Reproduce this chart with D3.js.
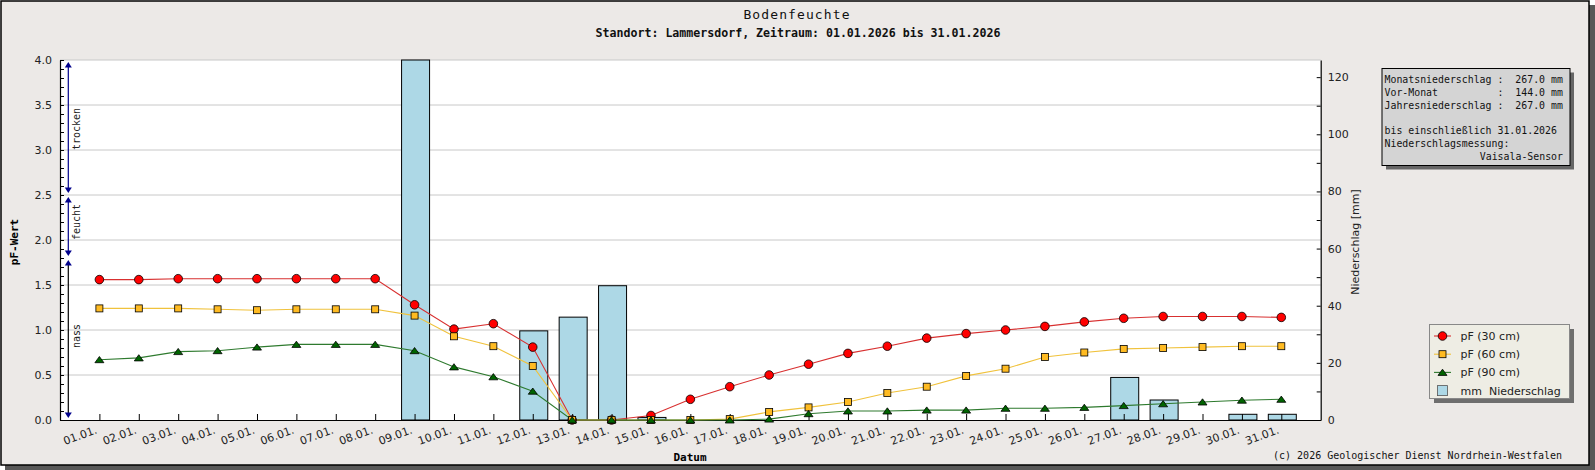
<!DOCTYPE html>
<html>
<head>
<meta charset="utf-8">
<script src="https://cdn.jsdelivr.net/npm/d3@7"></script>
<style>
  body { margin: 0; background: #fff; }
  text { font-family: "DejaVu Sans", sans-serif; }
  .mono { font-family: "DejaVu Sans Mono", monospace; }
</style>
</head>
<body>
<div id="chart"></div>
<script>
// chart data
var days = [1, 2, 3, 4, 5, 6, 7, 8, 9, 10, 11, 12, 13, 14, 15, 16, 17, 18, 19, 20, 21, 22, 23, 24, 25, 26, 27, 28, 29, 30, 31];
var dayLabels = ["01.01.", "02.01.", "03.01.", "04.01.", "05.01.", "06.01.", "07.01.", "08.01.", "09.01.", "10.01.",
  "11.01.", "12.01.", "13.01.", "14.01.", "15.01.", "16.01.", "17.01.", "18.01.", "19.01.", "20.01.",
  "21.01.", "22.01.", "23.01.", "24.01.", "25.01.", "26.01.", "27.01.", "28.01.", "29.01.", "30.01.", "31.01."];
var pf30 = [1.56, 1.56, 1.57, 1.57, 1.57, 1.57, 1.57, 1.57, 1.28, 1.01, 1.07, 0.81, 0.00, 0.00, 0.05, 0.23,
  0.37, 0.50, 0.62, 0.74, 0.82, 0.91, 0.96, 1.00, 1.04, 1.09, 1.13, 1.15, 1.15, 1.15, 1.14];
var pf60 = [1.24, 1.24, 1.24, 1.23, 1.22, 1.23, 1.23, 1.23, 1.16, 0.93, 0.82, 0.60, 0.00, 0.00, 0.00, 0.00,
  0.01, 0.09, 0.14, 0.20, 0.30, 0.37, 0.49, 0.57, 0.70, 0.75, 0.79, 0.80, 0.81, 0.82, 0.82];
var pf90 = [0.67, 0.69, 0.76, 0.77, 0.81, 0.84, 0.84, 0.84, 0.77, 0.59, 0.48, 0.32, 0.00, 0.00, 0.00, 0.00,
  0.00, 0.01, 0.07, 0.10, 0.10, 0.11, 0.11, 0.13, 0.13, 0.14, 0.16, 0.18, 0.20, 0.22, 0.23];
var rain = [0, 0, 0, 0, 0, 0, 0, 0, 126.0, 0, 0, 31.2, 36.0, 47.0, 0.9, 0, 0, 0, 0, 0, 0, 0, 0, 0, 0, 0,
  14.9, 7.0, 0, 2.0, 2.0];

// soil moisture zones (pF)
var zoneNames = ["trocken", "feucht", "nass"];
var zoneTop = [4.0, 2.5, 1.8];
var zoneBottom = [2.5, 1.8, 0.0];
var zoneLabelAt = [3.0, 2.0, 0.8];

var legendLabels = ["pF (30 cm)", "pF (60 cm)", "pF (90 cm)", "mm  Niederschlag"];
var prevMonth = 144.0;
var title = "Bodenfeuchte";
var subtitle = "Standort: Lammersdorf, Zeitraum: 01.01.2026 bis 31.01.2026";
var credit = "(c) 2026 Geologischer Dienst Nordrhein-Westfalen";

//SVG size and plot area
const svgWidth = 1595;
const svgHeight = 470;
const plot = { left: 60, top: 60, right: 1320.7, bottom: 420 };

var svg = d3.select("#chart")
  .append("svg")
  .attr("width", svgWidth)
  .attr("height", svgHeight);

// frame with drop shadow
svg.append("rect")
  .attr("x", 5).attr("y", 5)
  .attr("width", 1590).attr("height", 465)
  .attr("fill", "#585858");
svg.append("rect")
  .attr("x", 1).attr("y", 1)
  .attr("width", 1588).attr("height", 464)
  .attr("fill", "#ece9e7")
  .attr("stroke", "#000")
  .attr("stroke-width", 1.5);

// titles
svg.append("text")
  .attr("class", "mono")
  .attr("x", 797).attr("y", 19)
  .attr("text-anchor", "middle")
  .attr("font-size", "13px")
  .attr("letter-spacing", "1.1px")
  .attr("fill", "#111")
  .text(title);
svg.append("text")
  .attr("class", "mono")
  .attr("x", 798).attr("y", 37)
  .attr("text-anchor", "middle")
  .attr("font-size", "11.6px")
  .attr("font-weight", "bold")
  .attr("fill", "#111")
  .text(subtitle);

// scales
var xScale = d3.scaleLinear().domain([0, 32]).range([plot.left, plot.right]);
var yLeft = d3.scaleLinear().domain([0, 4]).range([plot.bottom, plot.top]);
var yRight = d3.scaleLinear().domain([0, 126]).range([plot.bottom, plot.top]);

svg.append("rect")
  .attr("x", plot.left).attr("y", plot.top)
  .attr("width", plot.right - plot.left)
  .attr("height", plot.bottom - plot.top)
  .attr("fill", "#fff");

// horizontal grid
svg.append("g")
  .selectAll("line")
  .data(d3.range(0.5, 4.01, 0.5))
  .enter()
  .append("line")
  .attr("x1", plot.left).attr("x2", plot.right)
  .attr("y1", d => yLeft(d)).attr("y2", d => yLeft(d))
  .attr("stroke", "#c8c8c8")
  .attr("stroke-width", 1);

// precipitation bars
svg.append("g")
  .selectAll("rect")
  .data(rain.map((v, i) => ({ day: days[i], v: v })).filter(d => d.v > 0))
  .enter()
  .append("rect")
  .attr("x", d => xScale(d.day) - 13)
  .attr("width", 28)
  .attr("y", d => yRight(d.v))
  .attr("height", d => plot.bottom - yRight(d.v))
  .attr("fill", "#add8e6")
  .attr("stroke", "#000")
  .attr("stroke-width", 1);

// axes
function styleAxis(g) {
  g.select(".domain").attr("stroke", "#000").attr("stroke-width", 1.2);
  g.selectAll(".tick line").attr("stroke", "#000");
  g.selectAll("text")
    .attr("font-family", "DejaVu Sans, sans-serif")
    .attr("font-size", "11px")
    .attr("fill", "#222");
}

var leftAxis = d3.axisLeft(yLeft)
  .tickValues(d3.range(0, 41).map(d => d / 10))
  .tickSize(-4)
  .tickSizeOuter(0)
  .tickPadding(8)
  .tickFormat(d => (Math.round(d * 10) % 5 === 0) ? d.toFixed(1) : "");
svg.append("g")
  .attr("transform", `translate(${plot.left}, 0)`)
  .call(leftAxis)
  .call(styleAxis);

var rightAxis = d3.axisRight(yRight)
  .tickValues(d3.range(0, 121, 10))
  .tickSize(-4)
  .tickSizeOuter(0)
  .tickPadding(7)
  .tickFormat(d => d % 20 === 0 ? d : "");
svg.append("g")
  .attr("transform", `translate(${plot.right}, 0)`)
  .call(rightAxis)
  .call(styleAxis);

var bottomAxis = d3.axisBottom(xScale)
  .tickValues(days)
  .tickSize(-6)
  .tickSizeOuter(0)
  .tickFormat((d, i) => dayLabels[i]);
var xAxis = svg.append("g")
  .attr("transform", `translate(0, ${plot.bottom})`)
  .call(bottomAxis)
  .call(styleAxis);
xAxis.selectAll("text")
  .attr("text-anchor", "end")
  .attr("x", 0).attr("y", 0).attr("dy", 0)
  .attr("transform", "translate(-2, 13) rotate(-20)");

// axis titles
svg.append("text")
  .attr("class", "mono")
  .attr("transform", "translate(18, 242) rotate(-90)")
  .attr("text-anchor", "middle")
  .attr("font-size", "11px")
  .attr("font-weight", "bold")
  .text("pF-Wert");
svg.append("text")
  .attr("class", "mono")
  .attr("x", 690).attr("y", 461)
  .attr("text-anchor", "middle")
  .attr("font-size", "11px")
  .attr("font-weight", "bold")
  .text("Datum");
svg.append("text")
  .attr("transform", "translate(1359, 242) rotate(-90)")
  .attr("text-anchor", "middle")
  .attr("font-size", "11px")
  .attr("fill", "#222")
  .text("Niederschlag [mm]");

// zone arrows on the left
var zoneX = 68.3;
var zoneG = svg.append("g");
zoneNames.forEach(function(name, i) {
  var yTop = yLeft(zoneTop[i]) + 2;
  var yBot = yLeft(zoneBottom[i]) - 2;
  zoneG.append("line")
    .attr("x1", zoneX).attr("x2", zoneX)
    .attr("y1", yTop + 4).attr("y2", yBot - 4)
    .attr("stroke", name === "nass" ? "#000" : "#00008b")
    .attr("stroke-width", 1.2);
  zoneG.append("path")
    .attr("d", `M${zoneX - 3.5},${yTop + 5.5}L${zoneX},${yTop}L${zoneX + 3.5},${yTop + 5.5}Z`)
    .attr("fill", "#00008b");
  zoneG.append("path")
    .attr("d", `M${zoneX - 3.5},${yBot - 5.5}L${zoneX},${yBot}L${zoneX + 3.5},${yBot - 5.5}Z`)
    .attr("fill", "#00008b");
  zoneG.append("text")
    .attr("class", "mono")
    .attr("transform", `translate(${zoneX + 11.5}, ${yLeft(zoneLabelAt[i])}) rotate(-90)`)
    .attr("font-size", "10px")
    .attr("fill", "#222")
    .text(name);
});

// pF lines and markers
var line = d3.line()
  .x((d, i) => xScale(days[i]))
  .y(d => yLeft(d));

var series = [
  { values: pf30, stroke: "#d83030", fill: "#ff0000", shape: "circle" },
  { values: pf60, stroke: "#f0c23c", fill: "#ffbb22", shape: "square" },
  { values: pf90, stroke: "#2e7a2e", fill: "#006400", shape: "triangle" }
];

function marker(g, shape, fill) {
  if (shape === "circle") {
    g.append("circle").attr("r", 4.3);
  } else if (shape === "square") {
    g.append("rect").attr("x", -3.5).attr("y", -3.5).attr("width", 7).attr("height", 7);
  } else {
    g.append("path").attr("d", "M-4.5,3L0,-3.2L4.5,3Z");
  }
  g.selectAll("circle, rect, path")
    .attr("fill", fill)
    .attr("stroke", "#000")
    .attr("stroke-width", 0.8);
}

series.forEach(function(s) {
  svg.append("path")
    .datum(s.values)
    .attr("d", line)
    .attr("fill", "none")
    .attr("stroke", s.stroke)
    .attr("stroke-width", 1.1);
});
series.forEach(function(s) {
  svg.append("g")
    .selectAll("g")
    .data(s.values)
    .enter()
    .append("g")
    .attr("transform", (d, i) => `translate(${xScale(days[i])}, ${yLeft(d)})`)
    .each(function() { marker(d3.select(this), s.shape, s.fill); });
});

// info box
var monthSum = d3.sum(rain);
var infoLines = [
  `Monatsniederschlag :  ${monthSum.toFixed(1)} mm`,
  `Vor-Monat          :  ${prevMonth.toFixed(1)} mm`,
  `Jahresniederschlag :  ${monthSum.toFixed(1)} mm`,
  "",
  "bis einschließlich 31.01.2026",
  "Niederschlagsmessung:"
];
var info = svg.append("g").attr("transform", "translate(1382, 68.5)");
info.append("rect")
  .attr("x", 4).attr("y", 4).attr("width", 188).attr("height", 97)
  .attr("fill", "#666");
info.append("rect")
  .attr("width", 188).attr("height", 97)
  .attr("fill", "#d4d4d4")
  .attr("stroke", "#000")
  .attr("stroke-width", 1);
info.selectAll("text.info")
  .data(infoLines)
  .enter()
  .append("text")
  .attr("class", "mono info")
  .attr("x", 2.5)
  .attr("y", (d, i) => 14.5 + i * 12.8)
  .attr("font-size", "9.9px")
  .attr("fill", "#111")
  .style("white-space", "pre")
  .text(d => d);
info.append("text")
  .attr("class", "mono")
  .attr("x", 181).attr("y", 14.5 + 6 * 12.8)
  .attr("text-anchor", "end")
  .attr("font-size", "9.9px")
  .attr("fill", "#111")
  .text("Vaisala-Sensor");

// legend
var legend = svg.append("g").attr("transform", "translate(1429.5, 324.5)");
legend.append("rect")
  .attr("x", 4.5).attr("y", 4.5).attr("width", 140).attr("height", 74)
  .attr("fill", "#6e6e6e");
legend.append("rect")
  .attr("width", 140).attr("height", 74)
  .attr("fill", "#eeede4")
  .attr("stroke", "#888")
  .attr("stroke-width", 1);
legendLabels.forEach(function(label, i) {
  var row = legend.append("g").attr("transform", `translate(13, ${11.5 + i * 18.2})`);
  if (i < 3) {
    row.append("line")
      .attr("x1", -8.5).attr("x2", 8.5)
      .attr("stroke", series[i].stroke)
      .attr("stroke-width", 1.1);
    marker(row.append("g"), series[i].shape, series[i].fill);
  } else {
    row.append("rect")
      .attr("x", -5).attr("y", -5).attr("width", 10).attr("height", 10)
      .attr("fill", "#add8e6")
      .attr("stroke", "#555")
      .attr("stroke-width", 0.8);
  }
  row.append("text")
    .attr("x", 18).attr("y", 4)
    .attr("font-size", "11px")
    .attr("fill", "#222")
    .style("white-space", "pre")
    .text(label);
});

// credit line
svg.append("text")
  .attr("class", "mono")
  .attr("x", 1562).attr("y", 459)
  .attr("text-anchor", "end")
  .attr("font-size", "10px")
  .attr("fill", "#111")
  .text(credit);
</script>
</body>
</html>
